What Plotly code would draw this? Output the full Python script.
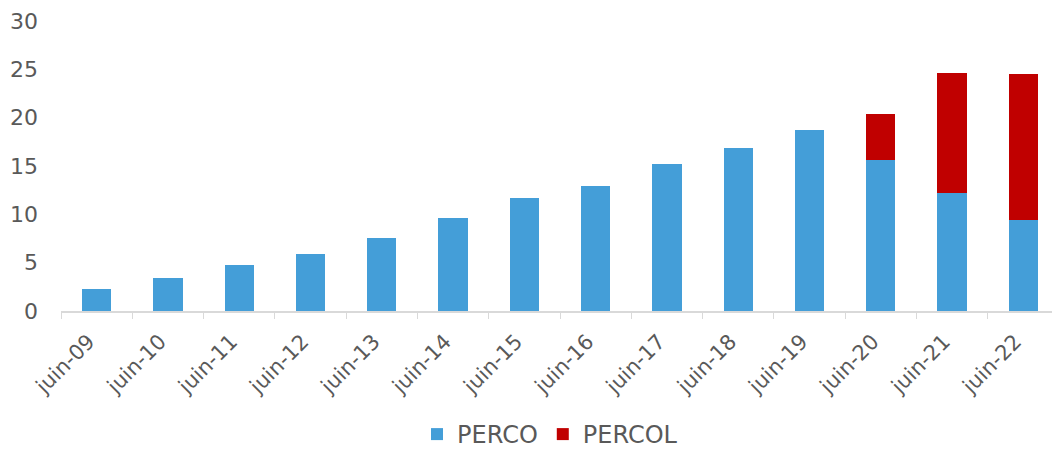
import plotly.graph_objects as go

categories = ["juin-09", "juin-10", "juin-11", "juin-12", "juin-13", "juin-14", "juin-15",
              "juin-16", "juin-17", "juin-18", "juin-19", "juin-20", "juin-21", "juin-22"]
perco = [2.3, 3.4, 4.8, 5.9, 7.6, 9.6, 11.7, 12.9, 15.2, 16.9, 18.7, 15.6, 12.2, 9.4]
percol = [0, 0, 0, 0, 0, 0, 0, 0, 0, 0, 0, 4.8, 12.4, 15.1]
y_ticks = [0, 5, 10, 15, 20, 25, 30]

font_family = "DejaVu Sans, sans-serif"
gray = "#595959"

fig = go.Figure()
fig.add_trace(go.Bar(x=categories, y=perco, name="PERCO", marker_color="#449ED8",
                     marker_line_width=0))
fig.add_trace(go.Bar(x=categories, y=percol, name="PERCOL", marker_color="#C00000",
                     marker_line_width=0))

# page body has an 8px margin, so figure is sized/offset accordingly
fig.update_layout(
    barmode="stack",
    bargap=0.59,
    width=1052, height=449,
    margin=dict(l=53, r=1, t=13, b=146),
    plot_bgcolor="white", paper_bgcolor="white",
    font=dict(family=font_family, color=gray, size=22),
    legend=dict(orientation="h", x=0.49, xanchor="center", y=0, yanchor="bottom",
                yref="container", font=dict(size=24, color=gray),
                itemwidth=30, traceorder="normal"),
    xaxis=dict(tickangle=-45, tickson="boundaries", ticks="outside", ticklen=6,
               tickcolor="#D9D9D9", showline=True, linecolor="#D9D9D9", linewidth=2,
               showgrid=False, tickfont=dict(size=21, color=gray),
               ticklabelstandoff=8, ticklabelshift=-8),
    yaxis=dict(range=[0, 30], tickvals=y_ticks, showgrid=False, zeroline=False,
               ticks="", tickfont=dict(size=22, color=gray), ticklabelstandoff=22),
)

fig.write_html("out.html")
